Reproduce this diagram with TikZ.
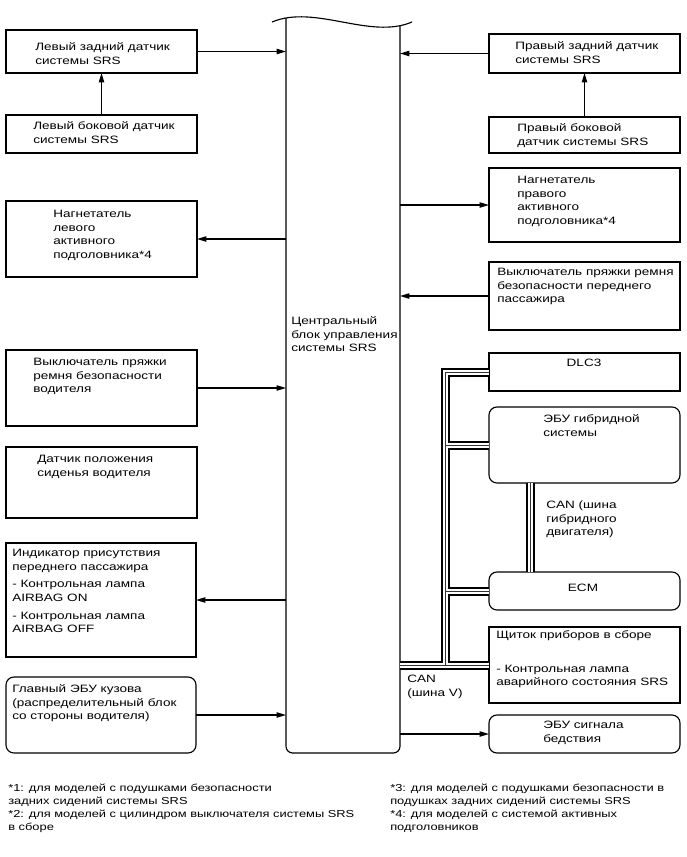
\documentclass[tikz,border=0pt]{standalone}
\usepackage{fontspec}
\setmainfont{Liberation Sans}[FakeStretch=1.27]
\usetikzlibrary{arrows.meta}
\newcommand\mkbox[6]{\node[#6, minimum width={(#4-#2)*0.75pt}, minimum height={(#5-#3)*0.75pt}, anchor=north west] (#1) at (#2,#3) {};}
\newcommand\fl{\rule{0pt}{7.5pt}}
\begin{document}
\begin{tikzpicture}[x=0.75pt,y=-0.75pt,
  bx/.style={draw, line width=0.85pt, inner sep=0pt, outer sep=0pt},
  rbx/.style={bx, rounded corners=6pt},
  ghost/.style={inner sep=0pt, outer sep=0pt},
  txt/.style={font=\fontsize{8}{10.3}\selectfont, inner sep=0pt, anchor=north west, align=left},
  ctxt/.style={font=\fontsize{8}{10.3}\selectfont, inner sep=0pt, anchor=base},
  fn/.style={font=\fontsize{7.6}{9.8}\selectfont, inner sep=0pt, anchor=north west, align=left},
  arr/.style={line width=0.85pt, -{Triangle[length=7pt,width=4pt]}},
  busA/.style={line width=6.75pt, line join=miter, line cap=butt, draw=black},
  busB/.style={line width=3.75pt, line join=miter, line cap=butt, draw=white},
  busC/.style={line width=0.75pt, line join=miter, line cap=butt, draw=black!80},
]
\useasboundingbox (0,0) rectangle (686,857);

% central block
\mkbox{srs}{286}{18}{400}{753}{ghost}
\draw[line width=0.85pt, rounded corners=5pt] (286,18) -- (286,753) -- (400,753) -- (400,26);
\draw[line width=0.85pt] (272,22) .. controls (315,4) and (370,40) .. (412,22);
\node[txt] (srst) at (291,314) {\fl Центральный\\блок управления\\системы SRS};

% left boxes
\mkbox{b1}{6}{30}{197}{73}{bx}
\node[txt] (b1t) at (35,40) {\fl Левый задний датчик\\системы SRS};
\mkbox{b2}{6}{115}{197}{153}{bx}
\node[txt] (b2t) at (33,119) {\fl Левый боковой датчик\\системы SRS};
\mkbox{b5}{6}{201}{197}{277}{bx}
\node[txt] (b5t) at (53,207) {\fl Нагнетатель\\левого\\активного\\подголовника*4};
\mkbox{b6}{6}{350}{197}{426}{bx}
\node[txt] (b6t) at (33,355) {\fl Выключатель пряжки\\ремня безопасности\\водителя};
\mkbox{b7}{6}{447}{197}{518}{bx}
\node[txt] (b7t) at (37,452) {\fl Датчик положения\\сиденья водителя};
\mkbox{b8}{6}{543}{196}{657}{bx}
\node[txt] (b8t) at (12,546) {\fl Индикатор присутствия\\переднего пассажира\\[3pt]- Контрольная лампа\\AIRBAG ON\\[3pt]- Контрольная лампа\\AIRBAG OFF};
\mkbox{b9}{6}{677}{196}{753}{rbx}
\node[txt] (b9t) at (12,682) {\fl Главный ЭБУ кузова\\(распределительный блок\\со стороны водителя)};

% right boxes
\mkbox{b3}{489}{34}{680}{73}{bx}
\node[txt] (b3t) at (515,39) {\fl Правый задний датчик\\системы SRS};
\mkbox{b4}{489}{117}{680}{153}{bx}
\node[txt] (b4t) at (517,121) {\fl Правый боковой\\датчик системы SRS};
\mkbox{b10}{489}{168}{680}{242}{bx}
\node[txt] (b10t) at (517,173) {\fl Нагнетатель\\правого\\активного\\подголовника*4};
\mkbox{b11}{489}{262}{680}{330}{bx}
\node[txt] (b11t) at (497,265) {\fl Выключатель пряжки ремня\\безопасности переднего\\пассажира};
\mkbox{dlc}{489}{353}{680}{391}{bx}
\node[ctxt] (dlct) at (584,366) {DLC3};
\mkbox{hyb}{489}{407}{680}{483}{rbx}
\node[txt] (hybt) at (543,412) {\fl ЭБУ гибридной\\системы};
\mkbox{ecm}{489}{572}{680}{610}{rbx}
\node[ctxt] (ecmt) at (583,591) {ECM};
\mkbox{met}{489}{627}{680}{703}{bx}
\node[txt] (mett) at (496,628) {\fl Щиток приборов в сборе\\[15pt]- Контрольная лампа\\аварийного состояния SRS};
\mkbox{dis}{489}{715}{680}{753}{rbx}
\node[txt] (dist) at (543,718) {\fl ЭБУ сигнала\\бедствия};

% bus labels
\node[txt] (canh) at (546,498) {\fl CAN (шина\\гибридного\\двигателя)};
\node[txt] (canv) at (407,672) {\fl CAN\\(шина V)};

% CAN bus
\coordinate (busx) at (445,0);
\coordinate (canx) at (530,0);
\foreach \s in {busA,busB,busC}{
  \draw[\s] (dlc.west) -| (busx |- met.west) -- (srs.east |- met.west);
  \draw[\s] (busx |- met.west) -- (met.west);
  \draw[\s] (busx |- hyb.west) -- (hyb.west);
  \draw[\s] (busx |- ecm.west) -- (ecm.west);
  \draw[\s] (canx |- hyb.south) -- (canx |- ecm.north);
}

% arrows
\draw[arr] (b1.east) -- (b1.east -| srs.west);
\draw[arr] (b2.north) -- (b1.south);
\draw[arr] (b3.west) -- (b3.west -| srs.east);
\draw[arr] (b4.north) -- (b3.south);
\draw[arr] (b5.east -| srs.west) -- (b5.east);
\draw[arr] (b10.west -| srs.east) -- (b10.west);
\draw[arr] (b11.west) -- (b11.west -| srs.east);
\draw[arr] (b6.east) -- (b6.east -| srs.west);
\draw[arr] (b8.east -| srs.west) -- (b8.east);
\draw[arr] (b9.east) -- (b9.east -| srs.west);
\draw[arr] (dis.west -| srs.east) -- (dis.west);

% footnotes
\node[fn] (f1) at (8,781) {\fl *1: для моделей с подушками безопасности\\задних сидений системы SRS};
\node[fn] (f2) at (8,807) {\fl *2: для моделей с цилиндром выключателя системы SRS\\в сборе};
\node[fn] (f3) at (390,781) {\fl *3: для моделей с подушками безопасности в\\подушках задних сидений системы SRS};
\node[fn] (f4) at (390,807) {\fl *4: для моделей с системой активных\\подголовников};
\end{tikzpicture}
\end{document}
